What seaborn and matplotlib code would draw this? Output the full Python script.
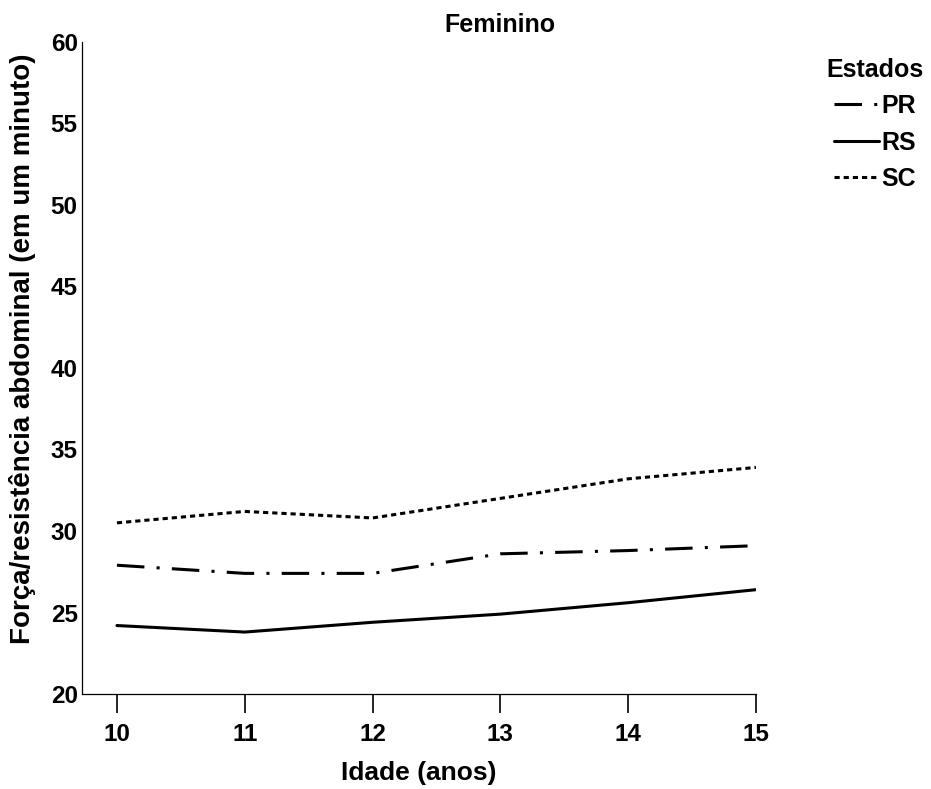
import pandas as pd
import seaborn as sns
import matplotlib.pyplot as plt

# yearly means
idades = [10, 11, 12, 13, 14, 15]
pr_vals = [27.9, 27.4, 27.4, 28.6, 28.8, 29.1]
rs_vals = [24.2, 23.8, 24.4, 24.9, 25.6, 26.4]
sc_vals = [30.5, 31.2, 30.8, 32.0, 33.2, 33.9]
estados = ['PR', 'RS', 'SC']


def build_frame():
    """
    Long-form table with one row per (estado, idade).
    """
    series = {'PR': pr_vals, 'RS': rs_vals, 'SC': sc_vals}
    rows = []
    for est in estados:
        for idade, val in zip(idades, series[est]):
            rows.append({'Idade': idade, 'Valor': val, 'Estados': est})
    return pd.DataFrame(rows)


def plot_feminino(data):
    sns.set_style('ticks')
    plt.rcParams['font.family'] = ['Liberation Sans', 'DejaVu Sans']
    plt.rcParams['font.weight'] = 'bold'
    plt.rcParams['text.color'] = 'black'
    plt.rcParams['axes.labelcolor'] = 'black'
    plt.rcParams['xtick.color'] = 'black'
    plt.rcParams['ytick.color'] = 'black'

    fig = plt.figure(figsize=(9.31, 7.89), dpi=100)
    ax = fig.add_axes([0.088, 0.1204, 0.724, 0.8264])

    # dash patterns, in multiples of line width
    dashes = {'PR': (9, 4, 1, 4), 'RS': '', 'SC': (1.7, 1.3)}
    sns.lineplot(data=data, x='Idade', y='Valor', style='Estados',
                 style_order=estados, dashes=dashes, color='black',
                 linewidth=2.2, ax=ax, legend='full')

    ax.set_xlim(9.726, 15)
    ax.set_ylim(20, 60)
    ax.set_xticks(idades)
    ax.set_yticks(range(20, 61, 5))

    for side in ['top', 'right']:
        ax.spines[side].set_visible(False)
    for side in ['left', 'bottom']:
        ax.spines[side].set_color('black')
        ax.spines[side].set_linewidth(0.9)

    ax.tick_params(axis='x', length=14, width=1.2, pad=7, labelsize=17.5,
                   color='black', labelcolor='black')
    ax.tick_params(axis='y', length=0, pad=3, labelsize=17.5,
                   labelcolor='black')
    for lab in ax.get_xticklabels() + ax.get_yticklabels():
        lab.set_fontweight('bold')

    ax.set_xlabel('Idade (anos)', fontsize=19, fontweight='bold',
                  color='black')
    ax.set_ylabel('Força/resistência abdominal (em um minuto)',
                  fontsize=20, fontweight='bold', color='black')
    ax.xaxis.set_label_coords(0.5, -0.102)
    ax.yaxis.set_label_coords(-0.068, 0.53)

    fig.text(0.537, 0.968, 'Feminino', ha='center', va='center',
             fontsize=18, fontweight='bold', color='black')

    handles, labels = ax.get_legend_handles_labels()
    leg = ax.legend(handles, labels, title='Estados', frameon=False,
                    loc='upper left', bbox_to_anchor=(0.888, 0.927),
                    bbox_transform=fig.transFigure, fontsize=18,
                    title_fontsize=18, handlelength=1.8, handletextpad=0.1,
                    labelspacing=0.5, borderpad=0, borderaxespad=0)
    leg.get_title().set_fontweight('bold')
    leg.get_title().set_color('black')
    for txt in leg.get_texts():
        txt.set_fontweight('bold')
        txt.set_color('black')

    fig.savefig('out.png', dpi=100)


def main():
    data = build_frame()
    plot_feminino(data)


if __name__ == '__main__':
    main()
